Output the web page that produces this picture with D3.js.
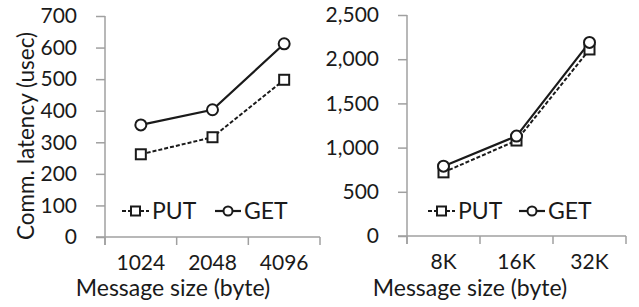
<!DOCTYPE html>
<html>
<head>
<meta charset="utf-8">
<script src="https://cdn.jsdelivr.net/npm/d3@7"></script>
<style>
  body { margin: 0; background: #fff; }
  text { font-family: Lato, "Open Sans", sans-serif; fill: #1a1a1a; }
</style>
</head>
<body>
<div class="chart"></div>
<script>
// left panel
var smallSizes = ['1024', '2048', '4096'];
var smallPut = [262, 316, 498];
var smallGet = [355, 403, 612];
var smallTicks = [0, 100, 200, 300, 400, 500, 600, 700];

// right panel
var bigSizes = ['8K', '16K', '32K'];
var bigPut = [720, 1080, 2110];
var bigGet = [790, 1130, 2190];
var bigTicks = [0, 500, 1000, 1500, 2000, 2500];

var width = 639;
var height = 307;

var svg = d3.select('.chart')
  .append('svg')
    .attr('width', width)
    .attr('height', height);

var fontSize = 21;
var labelSize = 23;
var axisColor = '#a0a0a0';

function drawPanel (p) {
  var xScale = d3.scaleBand()
    .domain(p.cats)
    .range([p.x0, p.x1]);

  var yScale = d3.scaleLinear()
    .domain([0, p.ymax])
    .range([p.y0, p.y1]);

  var g = svg.append('g');

  // y axis
  var yAxis = g.append('g')
    .attr('transform', `translate(${p.x0}, 0)`)
    .call(d3.axisLeft(yScale).tickValues(p.ticks).tickSize(9).tickPadding(19)
      .tickFormat(d3.format(p.fmt)));
  yAxis.select('.domain').attr('d', `M0,${p.y1}V${p.y0 + 8}`);

  // x axis
  var xAxis = g.append('g')
    .attr('transform', `translate(0, ${p.y0})`)
    .call(d3.axisBottom(xScale).tickSize(0).tickPadding(18));
  xAxis.select('.domain').attr('d', `M${p.x0 - 9},0H${p.x1}`);
  xAxis.selectAll('.bound')
    .data(d3.range(p.cats.length + 1))
    .enter()
    .append('line')
      .attr('x1', i => p.x0 + i * xScale.bandwidth())
      .attr('x2', i => p.x0 + i * xScale.bandwidth())
      .attr('y1', 0)
      .attr('y2', 8);

  g.selectAll('.domain, .tick line, line')
    .attr('stroke', axisColor)
    .attr('stroke-width', 1.5);
  g.selectAll('.tick text')
    .attr('font-size', fontSize)
    .attr('font-family', 'Lato, sans-serif')
    .attr('fill', '#1a1a1a');

  var cx = d => xScale(d.c) + xScale.bandwidth() / 2;
  var line = d3.line().x(cx).y(d => yScale(d.v));

  var put = p.cats.map((c, i) => ({ c: c, v: p.put[i] }));
  var get = p.cats.map((c, i) => ({ c: c, v: p.get[i] }));

  g.append('path')
    .datum(get)
    .attr('d', line)
    .attr('fill', 'none')
    .attr('stroke', '#1a1a1a')
    .attr('stroke-width', 2.2);

  g.append('path')
    .datum(put)
    .attr('d', line)
    .attr('fill', 'none')
    .attr('stroke', '#1a1a1a')
    .attr('stroke-width', 2)
    .attr('stroke-dasharray', '4,2');

  g.selectAll('.sq')
    .data(put)
    .enter()
    .append('rect')
      .attr('x', d => cx(d) - 5)
      .attr('y', d => yScale(d.v) - 5)
      .attr('width', 10)
      .attr('height', 10)
      .attr('fill', '#fff')
      .attr('stroke', '#1a1a1a')
      .attr('stroke-width', 2);

  g.selectAll('.ci')
    .data(get)
    .enter()
    .append('circle')
      .attr('cx', cx)
      .attr('cy', d => yScale(d.v))
      .attr('r', 5.5)
      .attr('fill', '#fff')
      .attr('stroke', '#1a1a1a')
      .attr('stroke-width', 2);

  // x title
  g.append('text')
    .attr('x', p.titleX)
    .attr('y', 296)
    .attr('text-anchor', 'middle')
    .attr('font-size', labelSize)
    .text('Message size (byte)');

  // legend
  var ly = 211;
  var lg = g.append('g').attr('transform', `translate(${p.legX}, ${ly})`);
  lg.append('line')
    .attr('x1', 0).attr('x2', 27).attr('y1', 0).attr('y2', 0)
    .attr('stroke', '#1a1a1a').attr('stroke-width', 2)
    .attr('stroke-dasharray', '4,2');
  lg.append('rect')
    .attr('x', 9).attr('y', -4.5).attr('width', 9).attr('height', 9)
    .attr('fill', '#fff').attr('stroke', '#1a1a1a').attr('stroke-width', 2);
  lg.append('text')
    .attr('x', 30).attr('y', 8)
    .attr('font-size', labelSize)
    .text('PUT');
  lg.append('line')
    .attr('x1', p.legGap).attr('x2', p.legGap + 26).attr('y1', 0).attr('y2', 0)
    .attr('stroke', '#1a1a1a').attr('stroke-width', 2.2);
  lg.append('circle')
    .attr('cx', p.legGap + 13).attr('cy', 0).attr('r', 4.5)
    .attr('fill', '#fff').attr('stroke', '#1a1a1a').attr('stroke-width', 2);
  lg.append('text')
    .attr('x', p.legGap + 29).attr('y', 8)
    .attr('font-size', labelSize)
    .text('GET');
}

drawPanel({
  cats: smallSizes, put: smallPut, get: smallGet, ticks: smallTicks,
  ymax: 700, fmt: 'd',
  x0: 105, x1: 320, y0: 237, y1: 16,
  titleX: 173, legX: 122, legGap: 93
});

drawPanel({
  cats: bigSizes, put: bigPut, get: bigGet, ticks: bigTicks,
  ymax: 2500, fmt: ',',
  x0: 407, x1: 626, y0: 236, y1: 15,
  titleX: 470, legX: 428, legGap: 91
});

// y title
svg.append('text')
  .attr('transform', 'translate(34, 136) rotate(-90)')
  .attr('text-anchor', 'middle')
  .attr('font-size', 22.5)
  .text('Comm. latency (usec)');
</script>
</body>
</html>
